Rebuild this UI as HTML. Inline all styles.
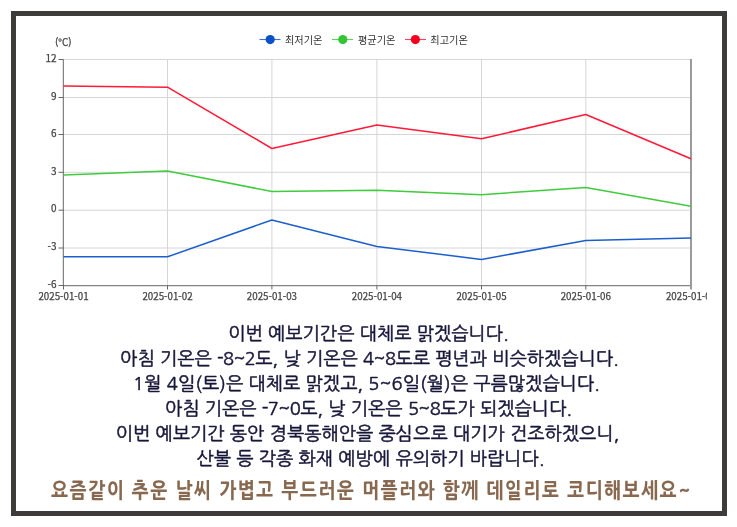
<!DOCTYPE html>
<html lang="ko">
<head>
<meta charset="utf-8">
<style>
html,body{margin:0;padding:0;background:#fff;}
body{width:737px;height:527px;position:relative;overflow:hidden;}
.frame{position:absolute;left:11px;top:11px;width:716px;height:505px;box-sizing:border-box;border:5px solid #3d3c3b;}
svg.chart{position:absolute;left:0;top:0;}
.chart text{font-family:"Noto Sans CJK KR",sans-serif;font-size:10px;fill:#444;stroke:#444;stroke-width:0.25px;}
.chart .xl text{font-size:10.2px;}
.t{position:absolute;left:0;width:737px;text-align:center;white-space:nowrap;
  font-family:"NanumGothic","Noto Sans CJK KR",sans-serif;font-size:18.3px;color:#17173a;line-height:20px;letter-spacing:0.1px;-webkit-text-stroke:0.5px #17173a;}
.n{letter-spacing:-0.6px;}
.b{position:absolute;left:0;width:737px;text-align:center;white-space:nowrap;
  font-family:"NanumGothic","Noto Sans CJK KR",sans-serif;font-weight:800;font-size:18px;color:#88684f;line-height:22px;letter-spacing:1.6px;transform:scaleY(1.18);transform-origin:50% 50%;}
</style>
</head>
<body>
<div class="frame"></div>
<svg class="chart" width="707" height="310" viewBox="0 0 707 310" xmlns="http://www.w3.org/2000/svg">
  <!-- legend -->
  <g>
    <line x1="259.5" y1="39.5" x2="280.5" y2="39.5" stroke="#1a5fcc" stroke-width="1.1" opacity="0.85"/>
    <circle cx="270.2" cy="39.6" r="4.6" fill="#0a50c8"/>
    <text x="285" y="44" style="font-family:'Noto Sans CJK KR',sans-serif;font-size:10.2px;fill:#333;stroke:none">최저기온</text>
    <line x1="332" y1="39.5" x2="353" y2="39.5" stroke="#3ccc3c" stroke-width="1.1" opacity="0.85"/>
    <circle cx="342.8" cy="39.6" r="4.6" fill="#33c433"/>
    <text x="358" y="44" style="font-family:'Noto Sans CJK KR',sans-serif;font-size:10.2px;fill:#333;stroke:none">평균기온</text>
    <line x1="405" y1="39.5" x2="426" y2="39.5" stroke="#ff2040" stroke-width="1.1" opacity="0.85"/>
    <circle cx="415.4" cy="39.6" r="4.6" fill="#f5001e"/>
    <text x="430.3" y="44" style="font-family:'Noto Sans CJK KR',sans-serif;font-size:10.2px;fill:#333;stroke:none">최고기온</text>
  </g>
  <!-- unit -->
  <text x="55" y="45.8" style="font-size:9.8px">(°C)</text>
  <!-- grid -->
  <g stroke="#d6d6d6" stroke-width="1">
    <line x1="63.5" y1="59.5" x2="691" y2="59.5"/>
    <line x1="63.5" y1="97.5" x2="691" y2="97.5"/>
    <line x1="63.5" y1="134.5" x2="691" y2="134.5"/>
    <line x1="63.5" y1="172.3" x2="691" y2="172.3"/>
    <line x1="63.5" y1="210.2" x2="691" y2="210.2"/>
    <line x1="63.5" y1="248" x2="691" y2="248"/>
    <line x1="167.5" y1="59.5" x2="167.5" y2="285.5"/>
    <line x1="271.9" y1="59.5" x2="271.9" y2="285.5"/>
    <line x1="376.9" y1="59.5" x2="376.9" y2="285.5"/>
    <line x1="481.5" y1="59.5" x2="481.5" y2="285.5"/>
    <line x1="585.8" y1="59.5" x2="585.8" y2="285.5"/>
  </g>
  <!-- axes -->
  <g stroke="#666" stroke-width="1">
    <line x1="63.3" y1="59.5" x2="63.3" y2="286"/>
    <line x1="58.5" y1="59.5" x2="63.5" y2="59.5"/>
    <line x1="58.5" y1="97.5" x2="63.5" y2="97.5"/>
    <line x1="58.5" y1="134.5" x2="63.5" y2="134.5"/>
    <line x1="58.5" y1="172.3" x2="63.5" y2="172.3"/>
    <line x1="58.5" y1="210.2" x2="63.5" y2="210.2"/>
    <line x1="58.5" y1="248" x2="63.5" y2="248"/>
    <line x1="58.5" y1="285.5" x2="63.5" y2="285.5"/>
    <line x1="63" y1="285.7" x2="691.5" y2="285.7"/>
    <line x1="691" y1="59" x2="691" y2="289.5" stroke="#9a9a9a" stroke-width="2"/>
    <line x1="63.5" y1="285.5" x2="63.5" y2="289.5"/>
    <line x1="167.5" y1="285.5" x2="167.5" y2="289.5"/>
    <line x1="271.9" y1="285.5" x2="271.9" y2="289.5"/>
    <line x1="376.9" y1="285.5" x2="376.9" y2="289.5"/>
    <line x1="481.5" y1="285.5" x2="481.5" y2="289.5"/>
    <line x1="585.8" y1="285.5" x2="585.8" y2="289.5"/>
  </g>
  <!-- y labels -->
  <g text-anchor="end">
    <text x="56.5" y="61.8">12</text>
    <text x="56.5" y="99.8">9</text>
    <text x="56.5" y="136.9">6</text>
    <text x="56.5" y="174.9">3</text>
    <text x="56.5" y="212.4">0</text>
    <text x="56.5" y="249.9">-3</text>
    <text x="56.5" y="287.8">-6</text>
  </g>
  <!-- x labels -->
  <g text-anchor="middle" class="xl">
    <text x="63.5" y="300" textLength="50.2" lengthAdjust="spacingAndGlyphs">2025-01-01</text>
    <text x="167.5" y="300" textLength="50.2" lengthAdjust="spacingAndGlyphs">2025-01-02</text>
    <text x="271.9" y="300" textLength="50.2" lengthAdjust="spacingAndGlyphs">2025-01-03</text>
    <text x="376.9" y="300" textLength="50.2" lengthAdjust="spacingAndGlyphs">2025-01-04</text>
    <text x="481.5" y="300" textLength="50.2" lengthAdjust="spacingAndGlyphs">2025-01-05</text>
    <text x="585.8" y="300" textLength="50.2" lengthAdjust="spacingAndGlyphs">2025-01-06</text>
    <text x="691" y="300" textLength="50.2" lengthAdjust="spacingAndGlyphs">2025-01-07</text>
  </g>
  <!-- data -->
  <g fill="none" stroke-width="1.5" stroke-linejoin="round">
    <polyline stroke="#ff1a38" points="63.5,86.0 167.5,87.2 271.9,148.5 376.9,124.9 481.5,138.8 585.8,114.5 691,158.8"/>
    <polyline stroke="#40cc3c" points="63.5,175.0 167.5,171.0 271.9,191.5 376.9,190.2 481.5,194.7 585.8,187.5 691,206.3"/>
    <polyline stroke="#1c5fcc" points="63.5,256.8 167.5,256.8 271.9,220.0 376.9,246.4 481.5,259.4 585.8,240.6 691,237.9"/>
  </g>
</svg>
<div class="t" style="top:324px">이번 예보기간은 대체로 맑겠습니다.</div>
<div class="t" style="top:349px;left:1px">아침 기온은 <span class="n">-8~2</span>도, 낮 기온은 <span class="n">4~8</span>도로 평년과 비슷하겠습니다.</div>
<div class="t" style="top:374px;left:-2px">1월 4일(토)은 대체로 맑겠고, 5~6일(월)은 구름많겠습니다.</div>
<div class="t" style="top:399px">아침 기온은 <span class="n">-7~0</span>도, 낮 기온은 <span class="n">5~8</span>도가 되겠습니다.</div>
<div class="t" style="top:424px;left:-1px">이번 예보기간 동안 경북동해안을 중심으로 대기가 건조하겠으니,</div>
<div class="t" style="top:449px;left:2px">산불 등 각종 화재 예방에 유의하기 바랍니다.</div>
<div class="b" style="top:479.5px;left:3px">요즘같이 추운 날씨 가볍고 부드러운 머플러와 함께 데일리로 코디해보세요~</div>
</body>
</html>
